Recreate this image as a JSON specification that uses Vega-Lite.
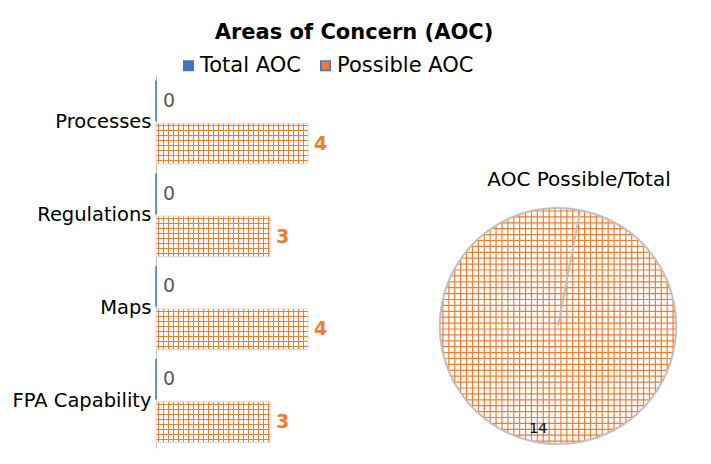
{
 "$schema": "https://vega.github.io/schema/vega-lite/v6.json",
 "background": "white",
 "padding": {"left": 12, "top": 22, "right": 0, "bottom": 0},
 "params": [
 {"name": "sb", "value": [
{"offset":0.01,"color":"#ED7D3100"},{"offset":0.01,"color":"#ED7D31"},{"offset":0.015,"color":"#ED7D31"},{"offset":0.015,"color":"#ED7D3100"},
{"offset":0.035,"color":"#ED7D3100"},{"offset":0.035,"color":"#ED7D31"},{"offset":0.04,"color":"#ED7D31"},{"offset":0.04,"color":"#ED7D3100"},
{"offset":0.06,"color":"#ED7D3100"},{"offset":0.06,"color":"#ED7D31"},{"offset":0.065,"color":"#ED7D31"},{"offset":0.065,"color":"#ED7D3100"},
{"offset":0.085,"color":"#ED7D3100"},{"offset":0.085,"color":"#ED7D31"},{"offset":0.09,"color":"#ED7D31"},{"offset":0.09,"color":"#ED7D3100"},
{"offset":0.11,"color":"#ED7D3100"},{"offset":0.11,"color":"#ED7D31"},{"offset":0.115,"color":"#ED7D31"},{"offset":0.115,"color":"#ED7D3100"},
{"offset":0.135,"color":"#ED7D3100"},{"offset":0.135,"color":"#ED7D31"},{"offset":0.14,"color":"#ED7D31"},{"offset":0.14,"color":"#ED7D3100"},
{"offset":0.16,"color":"#ED7D3100"},{"offset":0.16,"color":"#ED7D31"},{"offset":0.165,"color":"#ED7D31"},{"offset":0.165,"color":"#ED7D3100"},
{"offset":0.185,"color":"#ED7D3100"},{"offset":0.185,"color":"#ED7D31"},{"offset":0.19,"color":"#ED7D31"},{"offset":0.19,"color":"#ED7D3100"},
{"offset":0.21,"color":"#ED7D3100"},{"offset":0.21,"color":"#ED7D31"},{"offset":0.215,"color":"#ED7D31"},{"offset":0.215,"color":"#ED7D3100"},
{"offset":0.235,"color":"#ED7D3100"},{"offset":0.235,"color":"#ED7D31"},{"offset":0.24,"color":"#ED7D31"},{"offset":0.24,"color":"#ED7D3100"},
{"offset":0.26,"color":"#ED7D3100"},{"offset":0.26,"color":"#ED7D31"},{"offset":0.265,"color":"#ED7D31"},{"offset":0.265,"color":"#ED7D3100"},
{"offset":0.285,"color":"#ED7D3100"},{"offset":0.285,"color":"#ED7D31"},{"offset":0.29,"color":"#ED7D31"},{"offset":0.29,"color":"#ED7D3100"},
{"offset":0.31,"color":"#ED7D3100"},{"offset":0.31,"color":"#ED7D31"},{"offset":0.315,"color":"#ED7D31"},{"offset":0.315,"color":"#ED7D3100"},
{"offset":0.335,"color":"#ED7D3100"},{"offset":0.335,"color":"#ED7D31"},{"offset":0.34,"color":"#ED7D31"},{"offset":0.34,"color":"#ED7D3100"},
{"offset":0.36,"color":"#ED7D3100"},{"offset":0.36,"color":"#ED7D31"},{"offset":0.365,"color":"#ED7D31"},{"offset":0.365,"color":"#ED7D3100"},
{"offset":0.385,"color":"#ED7D3100"},{"offset":0.385,"color":"#ED7D31"},{"offset":0.39,"color":"#ED7D31"},{"offset":0.39,"color":"#ED7D3100"},
{"offset":0.41,"color":"#ED7D3100"},{"offset":0.41,"color":"#ED7D31"},{"offset":0.415,"color":"#ED7D31"},{"offset":0.415,"color":"#ED7D3100"},
{"offset":0.435,"color":"#ED7D3100"},{"offset":0.435,"color":"#ED7D31"},{"offset":0.44,"color":"#ED7D31"},{"offset":0.44,"color":"#ED7D3100"},
{"offset":0.46,"color":"#ED7D3100"},{"offset":0.46,"color":"#ED7D31"},{"offset":0.465,"color":"#ED7D31"},{"offset":0.465,"color":"#ED7D3100"},
{"offset":0.485,"color":"#ED7D3100"},{"offset":0.485,"color":"#ED7D31"},{"offset":0.49,"color":"#ED7D31"},{"offset":0.49,"color":"#ED7D3100"},
{"offset":0.51,"color":"#ED7D3100"},{"offset":0.51,"color":"#ED7D31"},{"offset":0.515,"color":"#ED7D31"},{"offset":0.515,"color":"#ED7D3100"},
{"offset":0.535,"color":"#ED7D3100"},{"offset":0.535,"color":"#ED7D31"},{"offset":0.54,"color":"#ED7D31"},{"offset":0.54,"color":"#ED7D3100"},
{"offset":0.56,"color":"#ED7D3100"},{"offset":0.56,"color":"#ED7D31"},{"offset":0.565,"color":"#ED7D31"},{"offset":0.565,"color":"#ED7D3100"},
{"offset":0.585,"color":"#ED7D3100"},{"offset":0.585,"color":"#ED7D31"},{"offset":0.59,"color":"#ED7D31"},{"offset":0.59,"color":"#ED7D3100"},
{"offset":0.61,"color":"#ED7D3100"},{"offset":0.61,"color":"#ED7D31"},{"offset":0.615,"color":"#ED7D31"},{"offset":0.615,"color":"#ED7D3100"},
{"offset":0.635,"color":"#ED7D3100"},{"offset":0.635,"color":"#ED7D31"},{"offset":0.64,"color":"#ED7D31"},{"offset":0.64,"color":"#ED7D3100"},
{"offset":0.66,"color":"#ED7D3100"},{"offset":0.66,"color":"#ED7D31"},{"offset":0.665,"color":"#ED7D31"},{"offset":0.665,"color":"#ED7D3100"},
{"offset":0.685,"color":"#ED7D3100"},{"offset":0.685,"color":"#ED7D31"},{"offset":0.69,"color":"#ED7D31"},{"offset":0.69,"color":"#ED7D3100"},
{"offset":0.71,"color":"#ED7D3100"},{"offset":0.71,"color":"#ED7D31"},{"offset":0.715,"color":"#ED7D31"},{"offset":0.715,"color":"#ED7D3100"},
{"offset":0.735,"color":"#ED7D3100"},{"offset":0.735,"color":"#ED7D31"},{"offset":0.74,"color":"#ED7D31"},{"offset":0.74,"color":"#ED7D3100"},
{"offset":0.76,"color":"#ED7D3100"},{"offset":0.76,"color":"#ED7D31"},{"offset":0.765,"color":"#ED7D31"},{"offset":0.765,"color":"#ED7D3100"},
{"offset":0.785,"color":"#ED7D3100"},{"offset":0.785,"color":"#ED7D31"},{"offset":0.79,"color":"#ED7D31"},{"offset":0.79,"color":"#ED7D3100"},
{"offset":0.81,"color":"#ED7D3100"},{"offset":0.81,"color":"#ED7D31"},{"offset":0.815,"color":"#ED7D31"},{"offset":0.815,"color":"#ED7D3100"},
{"offset":0.835,"color":"#ED7D3100"},{"offset":0.835,"color":"#ED7D31"},{"offset":0.84,"color":"#ED7D31"},{"offset":0.84,"color":"#ED7D3100"},
{"offset":0.86,"color":"#ED7D3100"},{"offset":0.86,"color":"#ED7D31"},{"offset":0.865,"color":"#ED7D31"},{"offset":0.865,"color":"#ED7D3100"},
{"offset":0.885,"color":"#ED7D3100"},{"offset":0.885,"color":"#ED7D31"},{"offset":0.89,"color":"#ED7D31"},{"offset":0.89,"color":"#ED7D3100"},
{"offset":0.91,"color":"#ED7D3100"},{"offset":0.91,"color":"#ED7D31"},{"offset":0.915,"color":"#ED7D31"},{"offset":0.915,"color":"#ED7D3100"},
{"offset":0.935,"color":"#ED7D3100"},{"offset":0.935,"color":"#ED7D31"},{"offset":0.94,"color":"#ED7D31"},{"offset":0.94,"color":"#ED7D3100"},
{"offset":0.96,"color":"#ED7D3100"},{"offset":0.96,"color":"#ED7D31"},{"offset":0.965,"color":"#ED7D31"},{"offset":0.965,"color":"#ED7D3100"},
{"offset":0.985,"color":"#ED7D3100"},{"offset":0.985,"color":"#ED7D31"},{"offset":0.99,"color":"#ED7D31"},{"offset":0.99,"color":"#ED7D3100"}
 ]}
 ],
 "datasets": {
  "bars": [
   {"cat": "Processes", "series": "Total AOC", "value": 0},
   {"cat": "Processes", "series": "Possible AOC", "value": 4},
   {"cat": "Regulations", "series": "Total AOC", "value": 0},
   {"cat": "Regulations", "series": "Possible AOC", "value": 3},
   {"cat": "Maps", "series": "Total AOC", "value": 0},
   {"cat": "Maps", "series": "Possible AOC", "value": 4},
   {"cat": "FPA Capability", "series": "Total AOC", "value": 0},
   {"cat": "FPA Capability", "series": "Possible AOC", "value": 3}
  ],
  "pie": [
   {"chart": "AOC Possible/Total", "series": "Total AOC", "value": 0},
   {"chart": "AOC Possible/Total", "series": "Possible AOC", "value": 14}
  ]
 },
 "title": {"text": "Areas of Concern (AOC)", "fontSize": 21, "fontWeight": "bold", "font": "DejaVu Sans", "color": "#000", "anchor": "middle", "dx": 8, "offset": 12},
 "spacing": 108,
 "hconcat": [
  {
   "width": 152,
   "height": 373,
   "data": {"name": "bars"},
   "encoding": {
    "y": {"field": "cat", "type": "nominal", "sort": ["Processes", "Regulations", "Maps", "FPA Capability"],
          "scale": {"paddingInner": 0.1, "paddingOuter": 0.06},
          "axis": {"title": null, "ticks": false, "grid": false, "domainColor": "#BFBFBF", "domainWidth": 1, "labelFontSize": 19.5, "labelColor": "#000", "labelPadding": 5, "labelFont": "DejaVu Sans"}},
    "yOffset": {"field": "series", "type": "nominal", "sort": ["Total AOC", "Possible AOC"], "scale": {"paddingInner": 0.05, "paddingOuter": 0}},
    "x": {"field": "value", "type": "quantitative", "scale": {"domain": [0, 4], "nice": false}, "axis": null}
   },
   "layer": [
    {"transform": [{"filter": "datum.series == 'Possible AOC'"}], "mark": {"type": "bar", "fill": "white"}},
    {"transform": [{"filter": "datum.series == 'Possible AOC'"}], "mark": {"type": "bar", "fill": {"expr": "{gradient:'linear',x1:0,y1:0,x2:200/(38*datum.value),y2:0,stops:sb}"}}},
    {"transform": [{"filter": "datum.series == 'Possible AOC'"}], "mark": {"type": "bar", "fill": {"expr": "{gradient:'linear',x1:0,y1:0,x2:0,y2:4.916,stops:sb}"}, "stroke": "#D9D9D9", "strokeWidth": 1}},
    {"transform": [{"filter": "datum.series == 'Total AOC'"}], "mark": {"type": "bar", "stroke": "#4472C4", "strokeWidth": 1.5},
     "encoding": {"color": {"field": "series", "type": "nominal",
       "scale": {"domain": ["Total AOC", "Possible AOC"], "range": ["#4472C4", "#ED7D31"]},
       "legend": {"title": null, "orient": "none", "legendX": 22, "legendY": -20, "direction": "horizontal", "padding": 0,
         "labelFontSize": 21, "labelFont": "DejaVu Sans", "labelColor": "#000", "symbolSize": 90, "symbolType": "square", "columnPadding": 14, "labelOffset": 1,
         "encode": {"symbols": {"update": {
           "shape": {"signal": "datum.value == 'Possible AOC' ? 'M-0.33,-1V1M0.33,-1V1M-1,-0.33H1M-1,0.33H1' : 'square'"},
           "fill": {"signal": "datum.value == 'Possible AOC' ? '#FFFFFF' : '#4472C4'"},
           "stroke": {"signal": "datum.value == 'Possible AOC' ? '#ED7D31' : '#4472C4'"},
           "strokeWidth": {"value": 1}}}}}}}},
    {"transform": [{"filter": "datum.series == 'Total AOC'"}], "mark": {"type": "text", "align": "left", "baseline": "middle", "dx": 7, "fontSize": 19, "color": "#595959"},
     "encoding": {"text": {"field": "value", "type": "quantitative"}}},
    {"transform": [{"filter": "datum.series == 'Possible AOC'"}], "mark": {"type": "text", "align": "left", "baseline": "middle", "dx": 6, "fontSize": 19, "fontWeight": "bold", "color": "#ED7D31"},
     "encoding": {"text": {"field": "value", "type": "quantitative"}}}
   ]
  },
  {
   "width": 236,
   "height": 373,
   "data": {"name": "pie"},
   "title": {"text": "AOC Possible/Total", "fontSize": 20, "fontWeight": "normal", "font": "DejaVu Sans", "color": "#000", "anchor": "middle", "dx": 21, "offset": -115},
   "encoding": {
    "theta": {"field": "value", "type": "quantitative", "stack": true, "scale": {"range": [0.19, 6.4732]}},
    "order": {"field": "series", "type": "ordinal", "sort": "descending"},
    "y": {"field": "chart", "type": "nominal", "scale": {"type": "point", "align": 0.673}, "axis": null}
   },
   "layer": [
    {"mark": {"type": "arc", "fill": "white"}},
    {"transform": [{"filter": "datum.value > 0"}],
     "mark": {"type": "point", "filled": false, "opacity": 1, "stroke": "#ED7D31", "strokeWidth": 1.2, "size": 55696,
      "shape": "M-0.975,-0.2222V0.2222M-0.925,-0.38V0.38M-0.875,-0.4841V0.4841M-0.825,-0.5651V0.5651M-0.775,-0.632V0.632M-0.725,-0.6888V0.6888M-0.675,-0.7378V0.7378M-0.625,-0.7806V0.7806M-0.575,-0.8182V0.8182M-0.525,-0.8511V0.8511M-0.475,-0.88V0.88M-0.425,-0.9052V0.9052M-0.375,-0.927V0.927M-0.325,-0.9457V0.9457M-0.275,-0.9614V0.9614M-0.225,-0.9744V0.9744M-0.175,-0.9846V0.9846M-0.125,-0.9922V0.9922M-0.075,-0.9972V0.9972M-0.025,-0.9997V0.9997M0.025,-0.9997V0.9997M0.075,-0.9972V0.9972M0.125,-0.9922V0.9922M0.175,-0.9846V0.9846M0.225,-0.9744V0.9744M0.275,-0.9614V0.9614M0.325,-0.9457V0.9457M0.375,-0.927V0.927M0.425,-0.9052V0.9052M0.475,-0.88V0.88M0.525,-0.8511V0.8511M0.575,-0.8182V0.8182M0.625,-0.7806V0.7806M0.675,-0.7378V0.7378M0.725,-0.6888V0.6888M0.775,-0.632V0.632M0.825,-0.5651V0.5651M0.875,-0.4841V0.4841M0.925,-0.38V0.38M0.975,-0.2222V0.2222M-0.2222,-0.975H0.2222M-0.38,-0.925H0.38M-0.4841,-0.875H0.4841M-0.5651,-0.825H0.5651M-0.632,-0.775H0.632M-0.6888,-0.725H0.6888M-0.7378,-0.675H0.7378M-0.7806,-0.625H0.7806M-0.8182,-0.575H0.8182M-0.8511,-0.525H0.8511M-0.88,-0.475H0.88M-0.9052,-0.425H0.9052M-0.927,-0.375H0.927M-0.9457,-0.325H0.9457M-0.9614,-0.275H0.9614M-0.9744,-0.225H0.9744M-0.9846,-0.175H0.9846M-0.9922,-0.125H0.9922M-0.9972,-0.075H0.9972M-0.9997,-0.025H0.9997M-0.9997,0.025H0.9997M-0.9972,0.075H0.9972M-0.9922,0.125H0.9922M-0.9846,0.175H0.9846M-0.9744,0.225H0.9744M-0.9614,0.275H0.9614M-0.9457,0.325H0.9457M-0.927,0.375H0.927M-0.9052,0.425H0.9052M-0.88,0.475H0.88M-0.8511,0.525H0.8511M-0.8182,0.575H0.8182M-0.7806,0.625H0.7806M-0.7378,0.675H0.7378M-0.6888,0.725H0.6888M-0.632,0.775H0.632M-0.5651,0.825H0.5651M-0.4841,0.875H0.4841M-0.38,0.925H0.38M-0.2222,0.975H0.2222"}},
    {"mark": {"type": "arc", "fill": null, "filled": false, "stroke": "#BFBFBF", "strokeWidth": 2}},
    {"transform": [{"filter": "datum.value > 0"}], "mark": {"type": "text", "radius": 105, "fontSize": 14, "color": "#000"},
     "encoding": {"text": {"field": "value", "type": "quantitative"}}}
   ]
  }
 ],
 "config": {"view": {"stroke": null}, "font": "DejaVu Sans"}
}
